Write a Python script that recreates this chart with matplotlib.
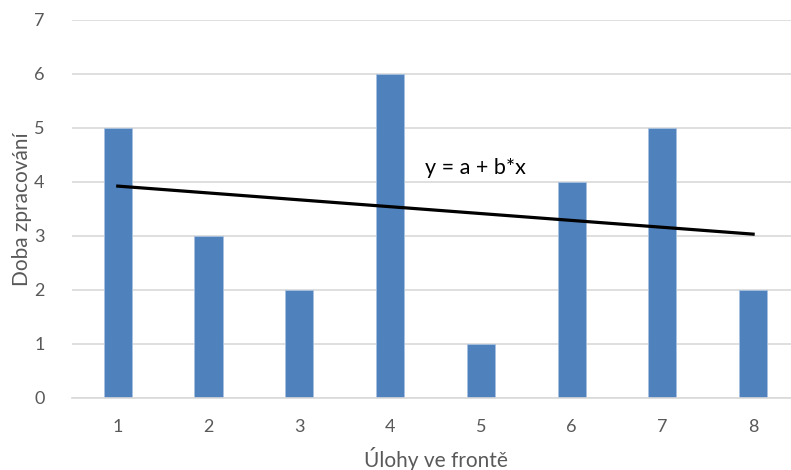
import matplotlib.pyplot as plt

plt.rcParams['font.family'] = ['Lato', 'DejaVu Sans']

tasks = [1, 2, 3, 4, 5, 6, 7, 8]
durations = [5, 3, 2, 6, 1, 4, 5, 2]
y_ticks = [0, 1, 2, 3, 4, 5, 6, 7]
# trend line end points (first and last task)
trend_x = [1, 8]
trend_y = [3.92, 3.03]

fig = plt.figure(figsize=(7.91, 4.70), dpi=100)
ax = fig.add_axes([0.0915, 0.1538, 0.918, 0.804])

ax.bar(tasks, durations, width=0.31, color="#4f81bd", edgecolor="#a9c1e0",
       linewidth=0.6, zorder=2)

ax.plot(trend_x, trend_y, color="black", linewidth=2.3, zorder=3)
ax.text(4.38, 4.25, "y = a + b*x", fontsize=15.5, color="black",
        va="center", ha="left", zorder=4)

ax.set_xlim(0.5, 8.5)
ax.set_ylim(0, 7)
ax.set_xticks(tasks)
ax.set_yticks(y_ticks)
ax.grid(axis="y", color="#d9d9d9", linewidth=1.2, zorder=0)
ax.set_axisbelow(True)
for s in ["top", "right", "left"]:
    ax.spines[s].set_visible(False)
ax.spines["bottom"].set_color("#d9d9d9")
ax.spines["bottom"].set_linewidth(1.2)
ax.tick_params(length=0, labelsize=13, colors="#595959", pad=15)
ax.tick_params(axis="y", pad=20)

ax.set_xlabel("Úlohy ve frontě", fontsize=15, color="#595959")
ax.set_ylabel("Doba zpracování", fontsize=15, color="#595959")
ax.xaxis.set_label_coords(0.5, -0.131)
ax.yaxis.set_label_coords(-0.056, 0.5)

fig.savefig("out.png", dpi=100)
